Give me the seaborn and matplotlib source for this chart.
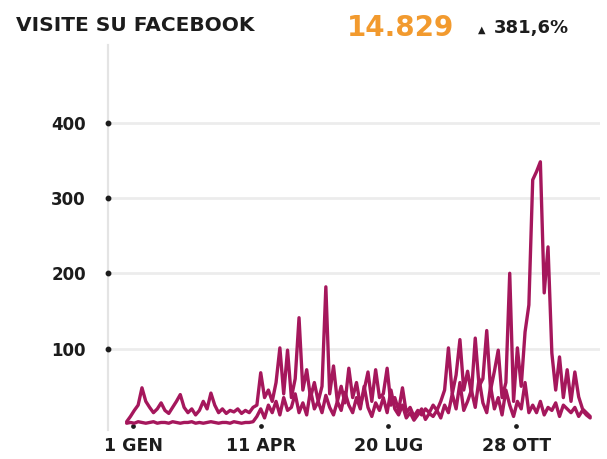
import numpy as np
import pandas as pd
import matplotlib
matplotlib.use("Agg")
import matplotlib.pyplot as plt
import seaborn as sns

# ---- data (one point every ~3 days) ----
START_DAY = -5
STEP = 3

# current year (the high, spiky line)
visite_anno = [
    3, 10, 18, 25, 48, 30, 22, 15, 20, 28, 18, 14, 22, 30, 39, 22, 15,
    20, 12, 18, 30, 20, 41, 25, 15, 20, 14, 18, 16, 20, 14, 18, 15, 22,
    25, 68, 35, 45, 30, 55, 101, 40, 98, 35, 60, 141, 45, 72, 35, 55,
    30, 50, 182, 40, 77, 30, 50, 28, 74, 35, 55, 25, 45, 69, 30, 72,
    35, 40, 74, 25, 35, 18, 48, 15, 22, 10, 18, 12, 20, 15, 25, 18, 30,
    45, 101, 40, 65, 112, 45, 70, 40, 114, 50, 60, 124, 45, 70, 98, 35,
    55, 200, 30, 101, 50, 122, 158, 324, 335, 348, 174, 235, 94, 45, 89,
    35, 72, 30, 69, 36, 20, 15, 10,
]

# previous year (the low line)
visite_prec = [
    1, 2, 1, 3, 2, 1, 2, 3, 1, 2, 2, 1, 3, 2, 1, 2, 2, 3, 1, 2, 1, 2,
    3, 2, 1, 2, 2, 1, 3, 2, 1, 2, 2, 3,
    10, 20, 8, 25, 15, 30, 12, 35, 18, 22, 40, 15, 28, 12, 45, 20, 30,
    15, 38, 22, 12, 30, 18, 42, 25, 15, 35, 20, 50, 22, 10, 28, 18, 35,
    15, 45, 20, 12, 25, 8, 15, 5, 12, 20, 6, 14, 10, 18, 8,
    25, 15, 40, 20, 55, 18, 30, 45, 22, 60, 28, 15, 50, 20, 35, 12, 45,
    25, 10, 30, 20, 55, 15, 25, 15, 30, 12, 22, 18, 28, 10, 25, 20, 15,
    22, 10, 18, 12, 8,
]

tick_days = [0, 100, 200, 300]
tick_labels = ["1 GEN", "11 APR", "20 LUG", "28 OTT"]
y_ticks = [100, 200, 300, 400]

LINE_COLOR = "#a5175c"
TEXT_COLOR = "#1c1c1c"

giorni = START_DAY + STEP * np.arange(len(visite_anno))
df = pd.concat([
    pd.DataFrame({"giorno": giorni, "visite": visite_anno, "serie": "anno"}),
    pd.DataFrame({"giorno": giorni, "visite": visite_prec, "serie": "prec"}),
])

sns.set_theme(style="white")
plt.rcParams["font.family"] = ["DejaVu Sans"]

fig = plt.figure(figsize=(6.07, 4.59), dpi=100)
ax = fig.add_axes([108 / 607, 29 / 459, 492 / 607, 385 / 459])

sns.lineplot(
    data=df, x="giorno", y="visite", units="serie", estimator=None,
    color=LINE_COLOR, linewidth=2.4, ax=ax, zorder=3,
)

ax.set_xlim(-19.6, 365.7)
ax.set_ylim(-8, 503)

# axes styling
for side in ["top", "right", "bottom"]:
    ax.spines[side].set_visible(False)
ax.spines["left"].set_color("#e4e4e4")
ax.spines["left"].set_linewidth(1.6)
ax.yaxis.grid(True, color="#ececec", linewidth=2)
ax.xaxis.grid(False)

ax.set_yticks(y_ticks)
ax.set_yticklabels([str(v) for v in y_ticks])
ax.set_xticks(tick_days)
ax.set_xticklabels(tick_labels)
ax.tick_params(axis="y", length=0, pad=16, labelsize=12, labelcolor=TEXT_COLOR)
ax.tick_params(axis="x", length=0, pad=5, labelsize=12.5, labelcolor=TEXT_COLOR)
for lab in ax.get_xticklabels() + ax.get_yticklabels():
    lab.set_fontweight("bold")
ax.set_xlabel("")
ax.set_ylabel("")

# small dots on the ticks
ax.plot([0] * len(y_ticks), y_ticks, "o", ms=3.2, color=TEXT_COLOR,
        transform=ax.get_yaxis_transform(), clip_on=False, zorder=4)
ax.plot(tick_days, [-3] * len(tick_days), "o", ms=2.4, color=TEXT_COLOR,
        clip_on=False, zorder=2)

# header
fig.text(16 / 607, 1 - 31 / 459, "VISITE SU FACEBOOK", fontsize=14.5,
         fontweight="bold", color=TEXT_COLOR, va="baseline", ha="left")
fig.text(401 / 607, 1 - 36 / 459, "14.829", fontsize=20, fontweight="bold",
         color="#f29a2e", va="baseline", ha="center")
fig.text(478 / 607, 1 - 33 / 459, "\u25b2", fontsize=7, color=TEXT_COLOR,
         va="baseline", ha="left")
fig.text(494 / 607, 1 - 33 / 459, "381,6%", fontsize=13, fontweight="bold",
         color=TEXT_COLOR, va="baseline", ha="left")

fig.savefig("out.png", dpi=100, facecolor="white")
